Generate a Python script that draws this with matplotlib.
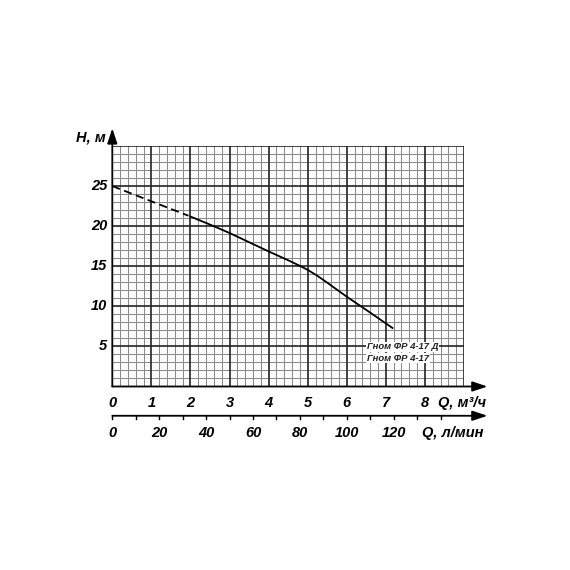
import matplotlib
matplotlib.use("Agg")
import matplotlib.pyplot as plt
import numpy as np

# performance curve, Q in m3/h, H in m
q_dashed = [0.0, 0.5, 1.0, 1.5, 1.95]
h_dashed = [25.0, 24.05, 23.1, 22.15, 21.3]
q_solid = [2.0, 2.5, 3.0, 3.5, 4.0, 4.5, 4.8, 5.0, 5.25, 5.5, 6.0, 6.5, 7.17]
h_solid = [21.2, 20.2, 19.15, 18.0, 16.85, 15.75, 15.05, 14.55, 13.8, 12.95, 11.2, 9.55, 7.3]

q_ticks = [0, 1, 2, 3, 4, 5, 6, 7, 8]
h_ticks = [5, 10, 15, 20, 25]
lpm_ticks = [0, 20, 40, 60, 80, 100, 120]
lpm_minor = [10, 30, 50, 70, 90, 110, 130, 140]
labels = ["Гном ФР 4-17 Д", "Гном ФР 4-17"]

FONT = dict(family="Liberation Sans", weight="bold", style="italic")

W, H = 570, 570
fig = plt.figure(figsize=(5.7, 5.7), dpi=100)

x0, x1 = 112.3, 464.0
y0, y1 = 386.5, 146.0
ax = fig.add_axes([x0 / W, 1 - y0 / H, (x1 - x0) / W, (y0 - y1) / H])
ax.set_xlim(0, 9)
ax.set_ylim(0, 30)

# grid
for x in np.arange(0, 9.01, 0.2):
    if abs(x - round(x)) > 1e-6:
        ax.axvline(x, color="#8a8a8a", lw=0.75, zorder=1)
for y in np.arange(0, 30.01, 1):
    if y % 5:
        ax.axhline(y, color="#8a8a8a", lw=0.75, zorder=1)
for x in range(0, 10):
    ax.axvline(x, color="#222222", lw=1.2, zorder=2)
for y in range(0, 31, 5):
    ax.axhline(y, color="#222222", lw=1.2, zorder=2)

for s in ax.spines.values():
    s.set_visible(False)
ax.tick_params(length=0)
ax.set_xticks([])
ax.set_yticks([])

# curve
ax.plot(q_dashed, h_dashed, color="black", lw=1.3, dashes=(4.5, 2.5), zorder=4)
ax.plot(q_solid, h_solid, color="black", lw=1.3, zorder=4, solid_joinstyle="round")

for i, lab in enumerate(labels):
    ax.text(6.52, 4.94 - i * 1.4, lab, fontsize=6.8, ha="left", va="center",
            color="#222222", zorder=5,
            bbox=dict(facecolor="white", edgecolor="none", pad=0.6), **FONT)

# axes with arrows
arrow = dict(arrowstyle="-|>,head_length=0.9,head_width=0.3", color="black", lw=1.3,
             shrinkA=0, shrinkB=0)
ax.annotate("", xy=(0, 32.2), xytext=(0, 0), arrowprops=arrow, annotation_clip=False, zorder=6)
ax.annotate("", xy=(9.6, 0), xytext=(0, 0), arrowprops=arrow, annotation_clip=False, zorder=6)

for h in h_ticks:
    ax.text(-0.13, h, str(h), fontsize=10.5, ha="right", va="center", **FONT)
ax.text(-0.18, 31.0, "H, м", fontsize=10.5, ha="right", va="center", **FONT)

for q in q_ticks:
    ax.text(q, -2.05, str(q), fontsize=10.5, ha="center", va="center", **FONT)
ax.text(8.33, -2.05, "Q, м³/ч", fontsize=10.5, ha="left", va="center", **FONT)

# second scale in l/min
y_l = -3.65
lpm_per_q = 1000.0 / 60.0
ax.annotate("", xy=(9.6, y_l), xytext=(0, y_l), arrowprops=arrow, annotation_clip=False, zorder=6)
for v in lpm_ticks + lpm_minor:
    q = v / lpm_per_q
    ax.plot([q, q], [y_l, y_l - 0.4], color="black", lw=1.0, clip_on=False)
for v in lpm_ticks:
    ax.text(v / lpm_per_q, -5.75, str(v), fontsize=10.5, ha="center", va="center", **FONT)
ax.text(7.92, -5.75, "Q, л/мин", fontsize=10.5, ha="left", va="center", **FONT)

fig.savefig("out.png", dpi=100, facecolor="white")
